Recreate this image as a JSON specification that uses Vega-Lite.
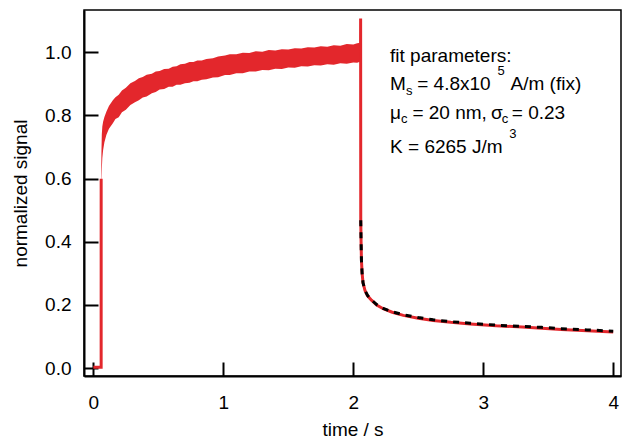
{
  "$schema": "https://vega.github.io/schema/vega-lite/v6.json",
  "width": 537,
  "height": 366,
  "autosize": "none",
  "padding": {"left": 84, "top": 10, "right": 17, "bottom": 63},
  "background": "white",
  "datasets": {
    "band": [
      {"t": 0.060, "hi": 0.60, "lo": 0.58},
      {"t": 0.062, "hi": 0.68, "lo": 0.60},
      {"t": 0.065, "hi": 0.74, "lo": 0.63},
      {"t": 0.069, "hi": 0.765, "lo": 0.665},
      {"t": 0.075, "hi": 0.78, "lo": 0.69},
      {"t": 0.085, "hi": 0.795, "lo": 0.715},
      {"t": 0.100, "hi": 0.812, "lo": 0.738},
      {"t": 0.120, "hi": 0.83, "lo": 0.758},
      {"t": 0.150, "hi": 0.848, "lo": 0.775},
      {"t": 0.170, "hi": 0.858, "lo": 0.789},
      {"t": 0.195, "hi": 0.866, "lo": 0.794},
      {"t": 0.220, "hi": 0.879, "lo": 0.810},
      {"t": 0.250, "hi": 0.888, "lo": 0.818},
      {"t": 0.285, "hi": 0.902, "lo": 0.833},
      {"t": 0.320, "hi": 0.909, "lo": 0.842},
      {"t": 0.350, "hi": 0.918, "lo": 0.848},
      {"t": 0.380, "hi": 0.922, "lo": 0.857},
      {"t": 0.410, "hi": 0.929, "lo": 0.860},
      {"t": 0.450, "hi": 0.932, "lo": 0.870},
      {"t": 0.480, "hi": 0.939, "lo": 0.874},
      {"t": 0.510, "hi": 0.941, "lo": 0.882},
      {"t": 0.545, "hi": 0.947, "lo": 0.884},
      {"t": 0.580, "hi": 0.948, "lo": 0.891},
      {"t": 0.610, "hi": 0.954, "lo": 0.891},
      {"t": 0.640, "hi": 0.956, "lo": 0.897},
      {"t": 0.670, "hi": 0.962, "lo": 0.897},
      {"t": 0.705, "hi": 0.964, "lo": 0.902},
      {"t": 0.740, "hi": 0.969, "lo": 0.904},
      {"t": 0.770, "hi": 0.969, "lo": 0.908},
      {"t": 0.800, "hi": 0.974, "lo": 0.908},
      {"t": 0.834, "hi": 0.974, "lo": 0.913},
      {"t": 0.870, "hi": 0.979, "lo": 0.915},
      {"t": 0.920, "hi": 0.981, "lo": 0.920},
      {"t": 0.960, "hi": 0.987, "lo": 0.921},
      {"t": 1.013, "hi": 0.990, "lo": 0.928},
      {"t": 1.050, "hi": 0.994, "lo": 0.928},
      {"t": 1.100, "hi": 0.994, "lo": 0.934},
      {"t": 1.150, "hi": 0.999, "lo": 0.934},
      {"t": 1.200, "hi": 0.998, "lo": 0.939},
      {"t": 1.250, "hi": 1.003, "lo": 0.939},
      {"t": 1.300, "hi": 1.002, "lo": 0.944},
      {"t": 1.350, "hi": 1.007, "lo": 0.943},
      {"t": 1.400, "hi": 1.006, "lo": 0.948},
      {"t": 1.450, "hi": 1.010, "lo": 0.947},
      {"t": 1.500, "hi": 1.009, "lo": 0.952},
      {"t": 1.550, "hi": 1.013, "lo": 0.951},
      {"t": 1.600, "hi": 1.012, "lo": 0.956},
      {"t": 1.650, "hi": 1.016, "lo": 0.955},
      {"t": 1.700, "hi": 1.015, "lo": 0.959},
      {"t": 1.750, "hi": 1.019, "lo": 0.958},
      {"t": 1.800, "hi": 1.018, "lo": 0.962},
      {"t": 1.850, "hi": 1.022, "lo": 0.961},
      {"t": 1.900, "hi": 1.021, "lo": 0.965},
      {"t": 1.950, "hi": 1.026, "lo": 0.964},
      {"t": 2.000, "hi": 1.025, "lo": 0.968},
      {"t": 2.030, "hi": 1.029, "lo": 0.967},
      {"t": 2.056, "hi": 1.030, "lo": 0.971}
    ],
    "signal": [
      {"seg": "a", "t": 0.0, "v": 0.003},
      {"seg": "a", "t": 0.060, "v": 0.003},
      {"seg": "a", "t": 0.0601, "v": 0.60},
      {"seg": "b", "t": 2.0560, "v": 1.00},
      {"seg": "b", "t": 2.0565, "v": 1.107},
      {"seg": "b", "t": 2.0575, "v": 0.47},
      {"seg": "b", "t": 2.060, "v": 0.40},
      {"seg": "b", "t": 2.063, "v": 0.34},
      {"seg": "b", "t": 2.068, "v": 0.30},
      {"seg": "b", "t": 2.075, "v": 0.27},
      {"seg": "b", "t": 2.090, "v": 0.246},
      {"seg": "b", "t": 2.110, "v": 0.229},
      {"seg": "b", "t": 2.140, "v": 0.215},
      {"seg": "b", "t": 2.180, "v": 0.200},
      {"seg": "b", "t": 2.230, "v": 0.188},
      {"seg": "b", "t": 2.300, "v": 0.177},
      {"seg": "b", "t": 2.385, "v": 0.167},
      {"seg": "b", "t": 2.500, "v": 0.158},
      {"seg": "b", "t": 2.615, "v": 0.151},
      {"seg": "b", "t": 2.750, "v": 0.145},
      {"seg": "b", "t": 2.900, "v": 0.140},
      {"seg": "b", "t": 3.100, "v": 0.134},
      {"seg": "b", "t": 3.300, "v": 0.130},
      {"seg": "b", "t": 3.450, "v": 0.126},
      {"seg": "b", "t": 3.600, "v": 0.122},
      {"seg": "b", "t": 3.800, "v": 0.118},
      {"seg": "b", "t": 4.000, "v": 0.114}
    ],
    "fit": [
      {"t": 2.0575, "v": 0.468},
      {"t": 2.060, "v": 0.40},
      {"t": 2.063, "v": 0.34},
      {"t": 2.068, "v": 0.30},
      {"t": 2.075, "v": 0.27},
      {"t": 2.090, "v": 0.246},
      {"t": 2.110, "v": 0.230},
      {"t": 2.140, "v": 0.216},
      {"t": 2.180, "v": 0.201},
      {"t": 2.230, "v": 0.189},
      {"t": 2.300, "v": 0.178},
      {"t": 2.385, "v": 0.169},
      {"t": 2.500, "v": 0.160},
      {"t": 2.615, "v": 0.153},
      {"t": 2.750, "v": 0.147},
      {"t": 2.900, "v": 0.142},
      {"t": 3.100, "v": 0.136},
      {"t": 3.300, "v": 0.132},
      {"t": 3.450, "v": 0.129},
      {"t": 3.600, "v": 0.125},
      {"t": 3.800, "v": 0.121},
      {"t": 4.000, "v": 0.117}
    ],
    "textMain": [
      {"t": 2.283, "v": 0.969, "s": "fit parameters:"},
      {"t": 2.283, "v": 0.880, "s": "M"},
      {"t": 2.492, "v": 0.880, "s": "= 4.8x10"},
      {"t": 3.210, "v": 0.880, "s": "A/m (fix)"},
      {"t": 2.283, "v": 0.790, "s": "μ"},
      {"t": 2.455, "v": 0.790, "s": "= 20 nm,"},
      {"t": 3.060, "v": 0.790, "s": "σ"},
      {"t": 3.220, "v": 0.790, "s": "= 0.23"},
      {"t": 2.283, "v": 0.680, "s": "K = 6265 J/m"}
    ],
    "textSmall": [
      {"t": 2.405, "v": 0.864, "s": "s"},
      {"t": 3.110, "v": 0.927, "s": "5"},
      {"t": 2.367, "v": 0.775, "s": "c"},
      {"t": 3.143, "v": 0.775, "s": "c"},
      {"t": 3.200, "v": 0.729, "s": "3"}
    ]
  },
  "layer": [
    {
      "data": {"name": "band"},
      "mark": {"type": "area", "color": "#e3272c", "opacity": 1},
      "encoding": {
        "x": {"field": "t", "type": "quantitative", "title": "time / s", "scale": {"domain": [-0.072, 4.06], "nice": false, "zero": false}, "axis": {"values": [0, 1, 2, 3, 4], "format": "d"}},
        "y": {"field": "hi", "type": "quantitative", "title": "normalized signal", "scale": {"domain": [-0.025, 1.134], "nice": false, "zero": false}, "axis": {"values": [0, 0.2, 0.4, 0.6, 0.8, 1.0], "format": ".1f"}},
        "y2": {"field": "lo"}
      }
    },
    {
      "data": {"name": "signal"},
      "mark": {"type": "line", "color": "#e3272c", "strokeWidth": 3},
      "encoding": {
        "x": {"field": "t", "type": "quantitative", "title": "time / s"},
        "y": {"field": "v", "type": "quantitative", "title": "normalized signal"},
        "detail": {"field": "seg"}
      }
    },
    {
      "data": {"name": "fit"},
      "mark": {"type": "line", "color": "black", "strokeWidth": 3, "strokeDash": [6, 6]},
      "encoding": {
        "x": {"field": "t", "type": "quantitative", "title": "time / s"},
        "y": {"field": "v", "type": "quantitative", "title": "normalized signal"}
      }
    },
    {
      "data": {"name": "textMain"},
      "mark": {"type": "text", "font": "Liberation Sans", "fontSize": 19, "align": "left", "baseline": "alphabetic", "color": "black"},
      "encoding": {
        "x": {"field": "t", "type": "quantitative", "title": "time / s"},
        "y": {"field": "v", "type": "quantitative", "title": "normalized signal"},
        "text": {"field": "s"}
      }
    },
    {
      "data": {"name": "textSmall"},
      "mark": {"type": "text", "font": "Liberation Sans", "fontSize": 13, "align": "left", "baseline": "alphabetic", "color": "black"},
      "encoding": {
        "x": {"field": "t", "type": "quantitative", "title": "time / s"},
        "y": {"field": "v", "type": "quantitative", "title": "normalized signal"},
        "text": {"field": "s"}
      }
    }
  ],
  "config": {
    "view": {"stroke": "black", "strokeWidth": 1.5},
    "axis": {
      "grid": false,
      "domainColor": "black",
      "domainWidth": 2,
      "tickColor": "black",
      "tickWidth": 2,
      "tickSize": -14,
      "labelFont": "Liberation Sans",
      "labelFontSize": 19,
      "labelColor": "black",
      "titleFont": "Liberation Sans",
      "titleFontSize": 19,
      "titleFontWeight": "normal",
      "titleColor": "black"
    },
    "axisX": {"labelPadding": 31, "titlePadding": 8},
    "axisY": {"labelPadding": 27, "titlePadding": 14}
  }
}
